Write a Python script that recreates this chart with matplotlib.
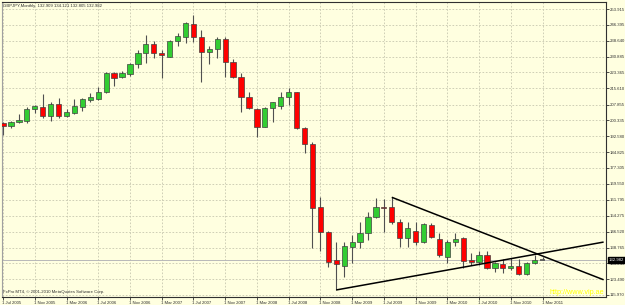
import matplotlib
matplotlib.use('Agg')
import matplotlib.pyplot as plt
from matplotlib.patches import Rectangle
import matplotlib.transforms as mtransforms

# ---------------- data ----------------
months = ['Jul 2005', 'Aug 2005', 'Sep 2005', 'Oct 2005', 'Nov 2005', 'Dec 2005',
          'Jan 2006', 'Feb 2006', 'Mar 2006', 'Apr 2006', 'May 2006', 'Jun 2006',
          'Jul 2006', 'Aug 2006', 'Sep 2006', 'Oct 2006', 'Nov 2006', 'Dec 2006',
          'Jan 2007', 'Feb 2007', 'Mar 2007', 'Apr 2007', 'May 2007', 'Jun 2007',
          'Jul 2007', 'Aug 2007', 'Sep 2007', 'Oct 2007', 'Nov 2007', 'Dec 2007',
          'Jan 2008', 'Feb 2008', 'Mar 2008', 'Apr 2008', 'May 2008', 'Jun 2008',
          'Jul 2008', 'Aug 2008', 'Sep 2008', 'Oct 2008', 'Nov 2008', 'Dec 2008',
          'Jan 2009', 'Feb 2009', 'Mar 2009', 'Apr 2009', 'May 2009', 'Jun 2009',
          'Jul 2009', 'Aug 2009', 'Sep 2009', 'Oct 2009', 'Nov 2009', 'Dec 2009',
          'Jan 2010', 'Feb 2010', 'Mar 2010', 'Apr 2010', 'May 2010', 'Jun 2010',
          'Jul 2010', 'Aug 2010', 'Sep 2010', 'Oct 2010', 'Nov 2010', 'Dec 2010',
          'Jan 2011', 'Feb 2011', 'Mar 2011']

opens = [198.8, 197.6, 199.4, 199.8, 205.7, 206.8, 202.5, 208.1, 202.5, 203.9,
         206.8, 210.2, 210.7, 213.8, 223.2, 221.0, 222.7, 227.2, 232.8, 237.0,
         232.6, 231.0, 238.5, 240.6, 246.7, 240.6, 233.3, 234.5, 239.5, 228.2,
         221.3, 211.3, 205.5, 197.2, 206.0, 207.1, 211.3, 213.8, 196.4, 188.8,
         158.3, 146.5, 132.9, 130.1, 139.3, 141.4, 145.7, 153.7, 158.6, 158.6,
         151.3, 143.3, 146.8, 141.7, 149.7, 142.8, 134.4, 141.7, 143.6, 132.9,
         132.0, 135.3, 129.1, 130.9, 128.8, 130.0, 126.1, 131.3, 132.909]
highs = [199.5, 200.1, 203.1, 206.5, 207.6, 212.8, 208.9, 210.9, 205.8, 210.5,
         210.9, 213.3, 216.2, 223.5, 223.5, 223.9, 227.7, 234.2, 241.4, 238.5,
         234.2, 239.0, 242.2, 247.5, 251.0, 243.8, 236.1, 240.3, 240.6, 229.7,
         222.9, 214.0, 206.0, 206.5, 209.2, 214.0, 215.7, 214.0, 197.2, 189.6,
         163.1, 147.0, 141.4, 141.4, 144.9, 151.3, 156.1, 162.6, 162.1, 163.1,
         152.5, 151.3, 151.3, 150.6, 150.6, 145.7, 142.5, 145.7, 144.1, 136.1,
         137.3, 137.3, 132.0, 133.2, 133.7, 133.2, 131.7, 135.3, 134.121]
lows = [193.0, 196.4, 199.0, 199.0, 203.6, 201.2, 200.1, 201.2, 202.0, 203.1,
        204.9, 209.2, 210.0, 213.3, 216.9, 220.5, 221.6, 225.3, 227.7, 230.5,
        220.8, 230.6, 236.1, 237.4, 238.2, 218.9, 227.4, 230.1, 221.0, 220.5,
        204.4, 205.5, 192.3, 196.9, 199.6, 205.5, 207.6, 196.0, 184.3, 138.5,
        137.3, 129.6, 118.4, 124.8, 131.3, 138.5, 142.5, 153.3, 146.5, 150.1,
        139.3, 139.3, 140.1, 140.9, 143.3, 134.4, 131.5, 139.6, 128.8, 130.4,
        130.4, 128.4, 127.2, 126.4, 128.0, 125.6, 125.6, 131.0, 132.805]
closes = [197.6, 199.3, 200.2, 205.7, 207.1, 202.5, 208.1, 202.5, 204.2, 207.1,
          210.4, 211.3, 213.8, 223.2, 220.8, 222.9, 227.2, 232.6, 237.0, 232.6,
          231.6, 238.5, 240.9, 247.0, 240.6, 233.3, 234.5, 239.5, 228.5, 221.3,
          211.3, 206.0, 197.2, 206.0, 208.9, 211.3, 214.0, 196.4, 188.8, 158.1,
          146.5, 132.0, 130.8, 139.6, 141.4, 145.7, 153.7, 158.6, 157.8, 151.3,
          143.3, 148.1, 141.7, 150.2, 144.1, 135.3, 141.7, 143.0, 132.4, 132.0,
          135.3, 128.8, 131.3, 128.8, 130.0, 126.1, 131.3, 132.9, 132.982]

price_ticks = [115.970, 123.490, 131.245, 138.765, 146.520, 154.275, 161.795,
               169.550, 177.305, 184.825, 192.580, 200.335, 207.855, 215.610,
               223.365, 230.885, 238.640, 246.395, 253.915]
bid_price = 132.982
title_text = 'GBPJPY,Monthly  132.909 134.121 132.805 132.982'
copyright_text = 'FxPro MT4, \u00a9 2001-2010 MetaQuotes Software Corp.'
watermark_text = 'http://www.vip.ae'

# trend lines: (bar index, price) anchors
upper_trend_x = [49, 75.7]
upper_trend_y = [163.1, 123.3]
lower_trend_x = [42, 75.7]
lower_trend_y = [118.4, 141.5]

# ---------------- style ----------------
BG = '#ffffe0'
GRID = '#c8c8b0'
FG = '#303030'
BULL = '#32cd32'
BEAR = '#ff0000'
FONT = 'Liberation Sans'
FS = 3.1

W, H = 625, 305
fig = plt.figure(figsize=(W / 100, H / 100), dpi=100)
fig.patch.set_facecolor(BG)
ax = fig.add_axes([2 / W, 8 / H, 604 / W, 295 / H])
ax.set_facecolor(BG)

n = len(opens)
xs = list(range(n))
ax.set_xlim(-0.13, 76.0)
ax.set_ylim(115.0, 257.3)

# grid
ax.set_axisbelow(True)
ax.grid(True, linestyle=(0, (2, 2)), color=GRID, linewidth=0.6)

# bid line
ax.axhline(bid_price, color='#b8b8b8', linewidth=0.7, zorder=1)

# candles
bw = 0.66
for i in xs:
    o, h, l, c = opens[i], highs[i], lows[i], closes[i]
    ax.vlines(i, l, h, color='#505050', linewidth=0.8, zorder=2)
    lo_b, hi_b = min(o, c), max(o, c)
    if hi_b - lo_b < 0.5:
        ax.hlines((o + c) / 2, i - bw / 2, i + bw / 2,
                  color=BEAR if c < o else '#505050', linewidth=1.2, zorder=3)
        continue
    col = BULL if c >= o else BEAR
    ax.add_patch(Rectangle((i - bw / 2, lo_b), bw, hi_b - lo_b,
                           facecolor=col, edgecolor='#404040',
                           linewidth=0.5, zorder=3))

# trend lines
ax.plot(upper_trend_x, upper_trend_y, color='black', linewidth=1.1, zorder=4,
        solid_capstyle='butt')
ax.plot(lower_trend_x, lower_trend_y, color='black', linewidth=1.1, zorder=4,
        solid_capstyle='butt')

# axes / ticks
for s in ax.spines.values():
    s.set_color(FG)
    s.set_linewidth(0.8)
ax.spines['left'].set_color('#a0a0a0')

ax.yaxis.tick_right()
ax.set_yticks(price_ticks)
ax.set_yticklabels(['%.3f' % v for v in price_ticks], fontsize=FS,
                   family=FONT, color=FG)
ax.tick_params(axis='y', length=2, width=0.6, pad=0.8, colors=FG)

xt = xs[::4]
ax.set_xticks(xt)
ax.set_xticklabels(['1 ' + months[i] for i in xt], fontsize=FS, family=FONT,
                   color=FG, ha='left')
ax.tick_params(axis='x', length=2, width=0.6, pad=1, colors=FG)
offset = mtransforms.ScaledTranslation(-1 / 100, 0, fig.dpi_scale_trans)
for lab in ax.get_xticklabels():
    lab.set_transform(lab.get_transform() + offset)

# current price label
trans = mtransforms.blended_transform_factory(ax.transAxes, ax.transData)
ax.text(1.0 + 2.5 / 604, bid_price, '%.3f' % bid_price, transform=trans,
        ha='left', va='center', fontsize=FS, family=FONT, color='white',
        zorder=10, bbox=dict(boxstyle='square,pad=0.2', facecolor='black',
                             edgecolor='black'), clip_on=False)

# texts
fig.text(3 / W, 1 - 6 / H, title_text, fontsize=FS, family=FONT, color=FG,
         ha='left', va='center')
fig.text(3 / W, 1 - 292 / H, copyright_text, fontsize=FS, family=FONT,
         color=FG, ha='left', va='center')
fig.text(604 / W, 1 - 292 / H, watermark_text, fontsize=5.2, family=FONT,
         color='#ffff00', ha='right', va='center')

fig.savefig('out.png', dpi=100, facecolor=BG)
